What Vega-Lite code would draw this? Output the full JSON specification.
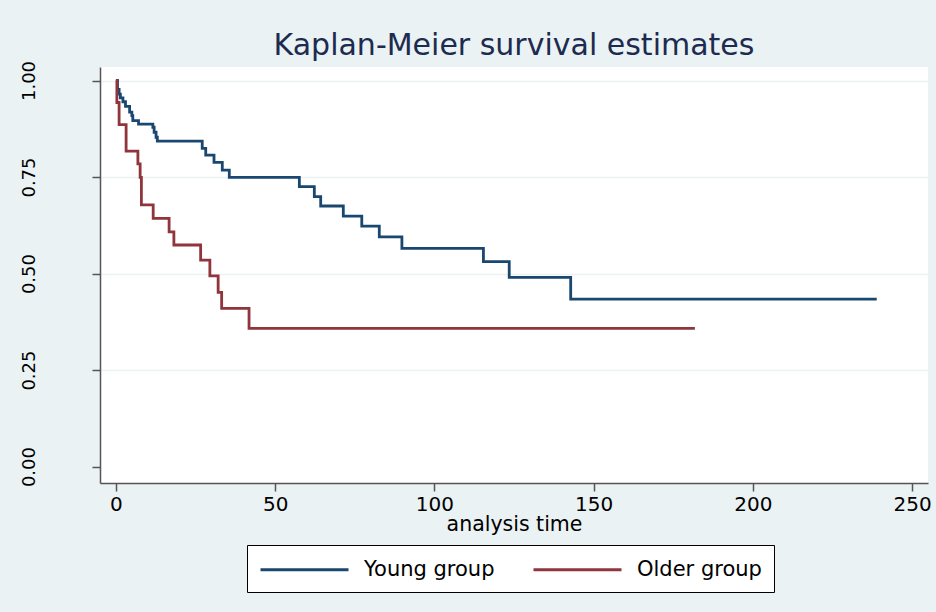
{
  "$schema": "https://vega.github.io/schema/vega-lite/v6.json",
  "width": 828,
  "height": 416,
  "autosize": {"type": "none"},
  "padding": {"left": 100, "top": 67, "right": 8, "bottom": 129},
  "background": "#EAF2F3",
  "title": {
    "text": "Kaplan-Meier survival estimates",
    "font": "DejaVu Sans",
    "fontSize": 30,
    "fontWeight": "normal",
    "color": "#1C2B4F",
    "anchor": "middle",
    "frame": "group",
    "offset": -1
  },
  "config": {
    "view": {"fill": "white", "stroke": null},
    "axis": {
      "labelFont": "DejaVu Sans",
      "titleFont": "DejaVu Sans",
      "labelColor": "black",
      "titleColor": "black",
      "domainColor": "#555555",
      "domainWidth": 1.5,
      "tickColor": "#555555",
      "tickWidth": 1.5,
      "tickSize": 8
    }
  },
  "data": {
    "values": [
      {"group": "Young group", "t": 0, "s": 1},
      {"group": "Young group", "t": 0.5, "s": 0.977},
      {"group": "Young group", "t": 1.0, "s": 0.965},
      {"group": "Young group", "t": 1.4, "s": 0.955},
      {"group": "Young group", "t": 2.2, "s": 0.945},
      {"group": "Young group", "t": 3.0, "s": 0.933},
      {"group": "Young group", "t": 4.3, "s": 0.918},
      {"group": "Young group", "t": 5.0, "s": 0.909},
      {"group": "Young group", "t": 5.3, "s": 0.896},
      {"group": "Young group", "t": 7.1, "s": 0.887},
      {"group": "Young group", "t": 11.6, "s": 0.879},
      {"group": "Young group", "t": 12.0, "s": 0.866},
      {"group": "Young group", "t": 12.6, "s": 0.853},
      {"group": "Young group", "t": 13.0, "s": 0.843},
      {"group": "Young group", "t": 27.1, "s": 0.824},
      {"group": "Young group", "t": 28.2, "s": 0.807},
      {"group": "Young group", "t": 30.8, "s": 0.788},
      {"group": "Young group", "t": 33.4, "s": 0.768},
      {"group": "Young group", "t": 35.6, "s": 0.749},
      {"group": "Young group", "t": 57.6, "s": 0.725},
      {"group": "Young group", "t": 62.3, "s": 0.699},
      {"group": "Young group", "t": 64.3, "s": 0.675},
      {"group": "Young group", "t": 71.4, "s": 0.649},
      {"group": "Young group", "t": 77.2, "s": 0.623},
      {"group": "Young group", "t": 82.7, "s": 0.595},
      {"group": "Young group", "t": 89.8, "s": 0.565},
      {"group": "Young group", "t": 115.4, "s": 0.531},
      {"group": "Young group", "t": 123.5, "s": 0.49},
      {"group": "Young group", "t": 142.8, "s": 0.434},
      {"group": "Young group", "t": 238.9, "s": 0.434},
      {"group": "Older group", "t": 0, "s": 1},
      {"group": "Older group", "t": 0.3, "s": 0.943},
      {"group": "Older group", "t": 1.0, "s": 0.886},
      {"group": "Older group", "t": 3.2, "s": 0.817},
      {"group": "Older group", "t": 6.9, "s": 0.784},
      {"group": "Older group", "t": 7.6, "s": 0.749},
      {"group": "Older group", "t": 8.0, "s": 0.678},
      {"group": "Older group", "t": 11.7, "s": 0.643},
      {"group": "Older group", "t": 16.7, "s": 0.608},
      {"group": "Older group", "t": 18.2, "s": 0.574},
      {"group": "Older group", "t": 26.6, "s": 0.535},
      {"group": "Older group", "t": 29.5, "s": 0.494},
      {"group": "Older group", "t": 32.1, "s": 0.451},
      {"group": "Older group", "t": 33.2, "s": 0.41},
      {"group": "Older group", "t": 41.8, "s": 0.358},
      {"group": "Older group", "t": 181.8, "s": 0.358}
    ]
  },
  "mark": {"type": "line", "interpolate": "step-after", "strokeWidth": 2.8},
  "encoding": {
    "x": {
      "field": "t",
      "type": "quantitative",
      "scale": {"domain": [-5, 255], "nice": false, "zero": false},
      "axis": {
        "title": "analysis time",
        "values": [0, 50, 100, 150, 200, 250],
        "grid": false,
        "labelFontSize": 20,
        "titleFontSize": 20.5,
        "titleFontWeight": "normal",
        "labelPadding": 3,
        "titlePadding": 0
      }
    },
    "y": {
      "field": "s",
      "type": "quantitative",
      "scale": {"domain": [-0.0425, 1.035], "nice": false, "zero": false},
      "axis": {
        "title": null,
        "values": [0, 0.25, 0.5, 0.75, 1],
        "format": ".2f",
        "grid": true,
        "gridColor": "#EAF2F3",
        "gridWidth": 1.5,
        "gridOpacity": {"condition": {"test": "datum.value === 0", "value": 0}, "value": 1},
        "labelAngle": -90,
        "labelAlign": "center",
        "labelBaseline": "bottom",
        "labelFontSize": 18,
        "labelPadding": 54
      }
    },
    "color": {
      "field": "group",
      "type": "nominal",
      "sort": ["Young group", "Older group"],
      "scale": {"domain": ["Young group", "Older group"], "range": ["#1A476F", "#90353B"]},
      "legend": {
        "title": null,
        "orient": "none",
        "legendX": 147,
        "legendY": 478,
        "direction": "horizontal",
        "symbolType": "M-1,0H7",
        "symbolSize": 484,
        "symbolStrokeWidth": 2.8,
        "labelFont": "DejaVu Sans",
        "labelFontSize": 21,
        "labelColor": "black",
        "labelOffset": 80,
        "columnPadding": 32,
        "padding": 12,
        "fillColor": "white",
        "strokeColor": "black",
        "labelLimit": 300
      }
    }
  }
}
